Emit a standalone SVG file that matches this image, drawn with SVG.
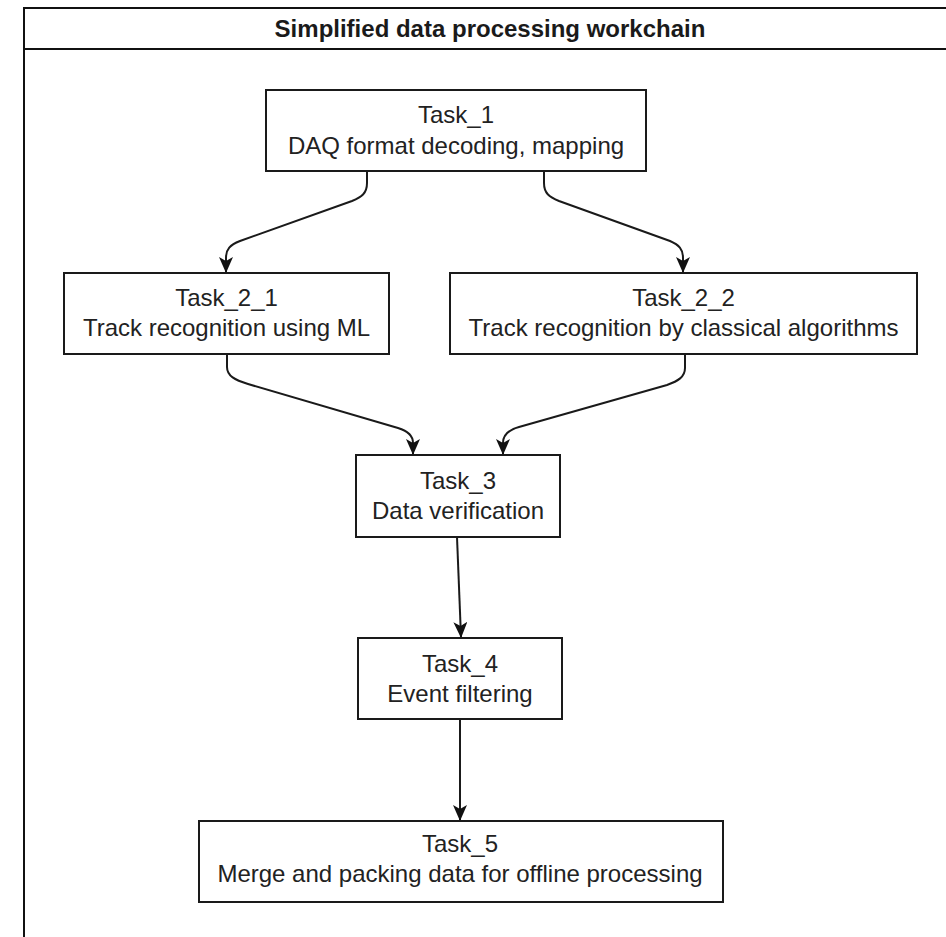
<svg xmlns="http://www.w3.org/2000/svg" width="946" height="937" viewBox="0 0 946 937">
  <style>
    .frame { fill: #ffffff; stroke: #111111; stroke-width: 2; }
    .box { fill: #ffffff; stroke: #1a1a1a; stroke-width: 2; }
    .title { font-family: "Liberation Sans", Arial, sans-serif; font-size: 24px; font-weight: bold; fill: #1a1a1a; text-anchor: middle; }
    .label { font-family: "Liberation Sans", Arial, sans-serif; font-size: 24px; fill: #222222; text-anchor: middle; }
    .edge { fill: none; stroke: #1a1a1a; stroke-width: 2; marker-end: url(#arrow); }
  </style>
  <defs>
    <marker id="arrow" viewBox="0 0 16 14" refX="15" refY="7" markerWidth="16" markerHeight="14" markerUnits="userSpaceOnUse" orient="auto">
      <path d="M0,0 L16,7 L0,14 L4,7 Z" fill="#111111"/>
    </marker>
  </defs>

  <rect width="946" height="937" fill="#ffffff"/>

  <!-- swimlane container with title bar -->
  <g id="workchain">
    <rect class="frame" x="24" y="8" width="933" height="960"/>
    <line x1="24" y1="49" x2="957" y2="49" stroke="#111111" stroke-width="2"/>
    <text class="title" x="490" y="37">Simplified data processing workchain</text>
  </g>

  <!-- connectors -->
  <g id="connectors">
    <path class="edge" d="M 367 171 L 367 183 C 367 193 362 197 352 201 L 240 241 C 230 245 226 249 226 258 L 226 272"/>
    <path class="edge" d="M 544 171 L 544 183 C 544 193 549 197 559 201 L 670 241 C 679 245 683 249 683 258 L 683 272"/>
    <path class="edge" d="M 227 354 L 227 367 C 227 376 235 380 248 384 L 398 428 C 408 431 413 436 413 443 L 413 454"/>
    <path class="edge" d="M 685 354 L 685 368 C 685 377 678 381 667 385 L 519 427 C 508 430 503 435 503 443 L 503 454"/>
    <path class="edge" d="M 457 537 L 461 637"/>
    <path class="edge" d="M 460 719 L 460 820"/>
  </g>

  <g id="task1">
    <rect class="box" x="266" y="90" width="380" height="81"/>
    <text class="label" x="456" y="123">Task_1</text>
    <text class="label" x="456" y="154">DAQ format decoding, mapping</text>
  </g>

  <g id="task2_1">
    <rect class="box" x="64" y="273" width="325" height="81"/>
    <text class="label" x="226.5" y="306">Task_2_1</text>
    <text class="label" x="226.5" y="336">Track recognition using ML</text>
  </g>

  <g id="task2_2">
    <rect class="box" x="450" y="273" width="467" height="81"/>
    <text class="label" x="683.5" y="306">Task_2_2</text>
    <text class="label" x="683.5" y="336">Track recognition by classical algorithms</text>
  </g>

  <g id="task3">
    <rect class="box" x="356" y="455" width="204" height="82"/>
    <text class="label" x="458" y="489">Task_3</text>
    <text class="label" x="458" y="519">Data verification</text>
  </g>

  <g id="task4">
    <rect class="box" x="358" y="638" width="204" height="81"/>
    <text class="label" x="460" y="672">Task_4</text>
    <text class="label" x="460" y="702">Event filtering</text>
  </g>

  <g id="task5">
    <rect class="box" x="199" y="821" width="524" height="81"/>
    <text class="label" x="460" y="852">Task_5</text>
    <text class="label" x="460" y="882">Merge and packing data for offline processing</text>
  </g>
</svg>
